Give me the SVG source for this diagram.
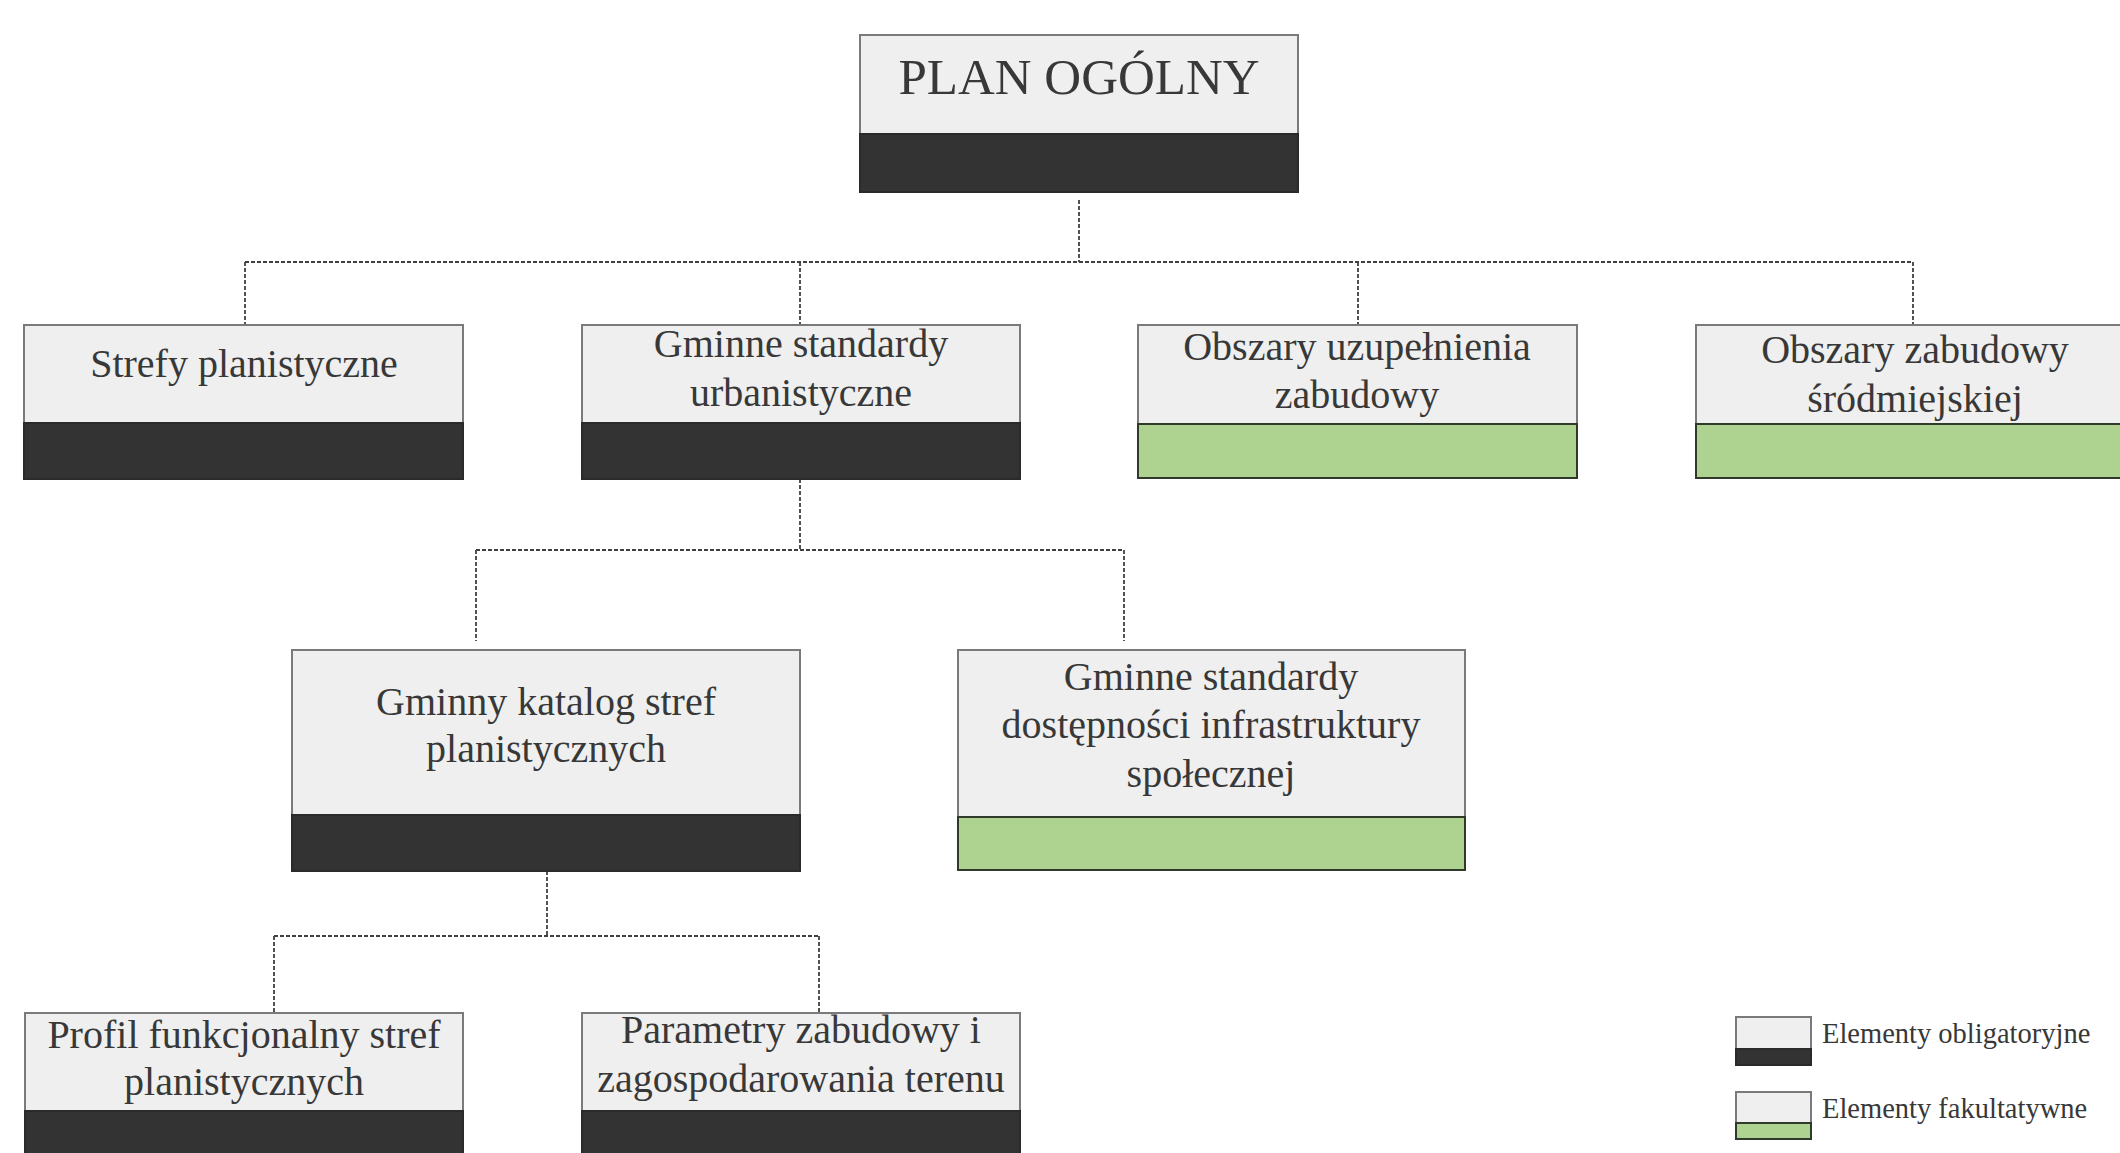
<svg xmlns="http://www.w3.org/2000/svg" width="2120" height="1153" viewBox="0 0 2120 1153">
<style>
.bg{fill:#ffffff}
.top{fill:#efefef;stroke:#7a7a7a;stroke-width:2}
.dark{fill:#333333;stroke:#2a2a2a;stroke-width:2}
.green{fill:#aed391;stroke:#2f3a2a;stroke-width:2}
.t{font-family:"Liberation Serif","Times New Roman",serif;font-size:40px;fill:#383838;text-anchor:middle}
.big{font-size:51px}
.leg{font-family:"Liberation Serif","Times New Roman",serif;font-size:28.5px;fill:#383838}
.c{fill:none;stroke:#404040;stroke-width:1.8;stroke-dasharray:4 2}
</style>
<rect class="bg" x="0" y="0" width="2120" height="1153"/>
<g id="connectors">
<path class="c" d="M1079 200V262"/>
<path class="c" d="M245 262H1913"/>
<path class="c" d="M245 262V325M800 262V325M1358 262V325M1913 262V325"/>
<path class="c" d="M800 479V550"/>
<path class="c" d="M476 550H1124"/>
<path class="c" d="M476 550V641M1124 550V641"/>
<path class="c" d="M547 871V936"/>
<path class="c" d="M274 936H819"/>
<path class="c" d="M274 936V1013M819 936V1013"/>
</g>
<g id="plan-ogolny">
<rect class="top" x="860" y="35" width="438" height="99"/>
<rect class="dark" x="860" y="134" width="438" height="58"/>
<text class="t big" x="1079" y="94">PLAN OGÓLNY</text>
</g>
<g id="strefy-planistyczne">
<rect class="top" x="24" y="325" width="439" height="98"/>
<rect class="dark" x="24" y="423" width="439" height="56"/>
<text class="t" x="244" y="377">Strefy planistyczne</text>
</g>
<g id="gminne-standardy-urbanistyczne">
<rect class="top" x="582" y="325" width="438" height="98"/>
<rect class="dark" x="582" y="423" width="438" height="56"/>
<text class="t" x="801" y="357">Gminne standardy</text>
<text class="t" x="801" y="406">urbanistyczne</text>
</g>
<g id="obszary-uzupelnienia-zabudowy">
<rect class="top" x="1138" y="325" width="439" height="99"/>
<rect class="green" x="1138" y="424" width="439" height="54"/>
<text class="t" x="1357" y="360">Obszary uzupełnienia</text>
<text class="t" x="1357" y="408">zabudowy</text>
</g>
<g id="obszary-zabudowy-srodmiejskiej">
<rect class="top" x="1696" y="325" width="438" height="99"/>
<rect class="green" x="1696" y="424" width="438" height="54"/>
<text class="t" x="1915" y="363">Obszary zabudowy</text>
<text class="t" x="1915" y="412">śródmiejskiej</text>
</g>
<g id="gminny-katalog-stref">
<rect class="top" x="292" y="650" width="508" height="165"/>
<rect class="dark" x="292" y="815" width="508" height="56"/>
<text class="t" x="546" y="715">Gminny katalog stref</text>
<text class="t" x="546" y="762">planistycznych</text>
</g>
<g id="gminne-standardy-dostepnosci">
<rect class="top" x="958" y="650" width="507" height="167"/>
<rect class="green" x="958" y="817" width="507" height="53"/>
<text class="t" x="1211" y="690">Gminne standardy</text>
<text class="t" x="1211" y="738">dostępności infrastruktury</text>
<text class="t" x="1211" y="787">społecznej</text>
</g>
<g id="profil-funkcjonalny">
<rect class="top" x="25" y="1013" width="438" height="98"/>
<rect class="dark" x="25" y="1111" width="438" height="50"/>
<text class="t" x="244" y="1048">Profil funkcjonalny stref</text>
<text class="t" x="244" y="1095">planistycznych</text>
</g>
<g id="parametry-zabudowy">
<rect class="top" x="582" y="1013" width="438" height="98"/>
<rect class="dark" x="582" y="1111" width="438" height="50"/>
<text class="t" x="801" y="1043">Parametry zabudowy i</text>
<text class="t" x="801" y="1092">zagospodarowania terenu</text>
</g>
<g id="legend-obligatoryjne">
<rect class="top" x="1736" y="1017" width="75" height="32"/>
<rect class="dark" x="1736" y="1049" width="75" height="16"/>
<text class="leg" x="1822" y="1043">Elementy obligatoryjne</text>
</g>
<g id="legend-fakultatywne">
<rect class="top" x="1736" y="1092" width="75" height="31"/>
<rect class="green" x="1736" y="1123" width="75" height="16"/>
<text class="leg" x="1822" y="1118">Elementy fakultatywne</text>
</g>
</svg>
